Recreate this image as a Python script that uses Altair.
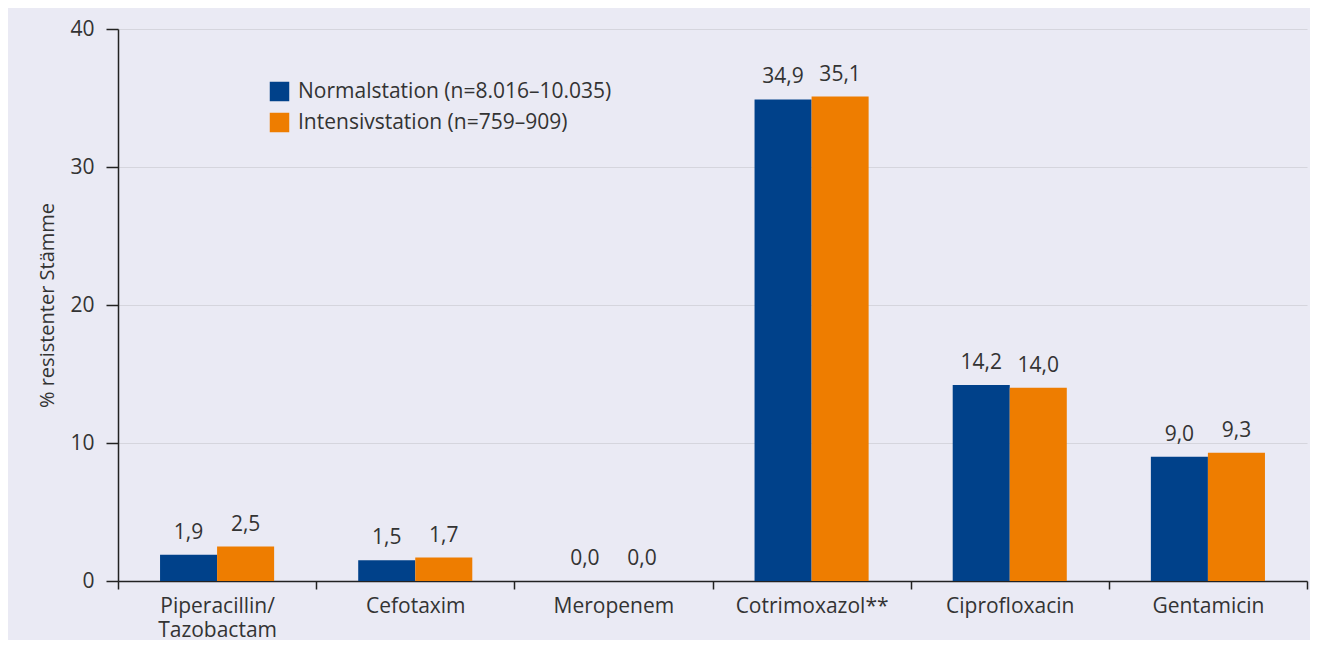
import altair as alt
import pandas as pd

categories = ["Piperacillin/\nTazobactam", "Cefotaxim", "Meropenem", "Cotrimoxazol**", "Ciprofloxacin", "Gentamicin"]
series = ["Normalstation (n=8.016–10.035)", "Intensivstation (n=759–909)"]
normal = [1.9, 1.5, 0.0, 34.9, 14.2, 9.0]
intensiv = [2.5, 1.7, 0.0, 35.1, 14.0, 9.3]
colors = ["#00418A", "#EE7D00"]
y_ticks = [0, 10, 20, 30, 40]

rows = []
for c, a, b in zip(categories, normal, intensiv):
    rows.append({"cat": c, "series": series[0], "value": a})
    rows.append({"cat": c, "series": series[1], "value": b})
df = pd.DataFrame(rows)

FONT = "Open Sans"
TXT = "#333333"

x_enc = alt.X("cat:N", sort=categories, title=None,
              scale=alt.Scale(paddingInner=0, paddingOuter=0),
              axis=alt.Axis(labelExpr="split(datum.label, '\\n')", labelAngle=0,
                            tickBand="extent", tickSize=8, labelPadding=6,
                            labelLineHeight=24, domainColor="#222222", tickColor="#222222",
                            domainWidth=1.5, tickWidth=1.5, grid=False))
xo = alt.XOffset("series:N", sort=series, scale=alt.Scale(paddingOuter=0.737, paddingInner=0))

bars = alt.Chart(df).mark_bar().encode(
    x=x_enc,
    xOffset=xo,
    y=alt.Y("value:Q", title="% resistenter Stämme",
            scale=alt.Scale(domain=[0, 40]),
            axis=alt.Axis(values=y_ticks, tickSize=12, labelPadding=12, titlePadding=12,
                          domainColor="#222222", tickColor="#222222", domainWidth=1.5, tickWidth=1.5,
                          gridColor="#D5D5DD", gridWidth=1)),
    color=alt.Color("series:N", sort=series, title=None,
                    scale=alt.Scale(domain=series, range=colors),
                    legend=alt.Legend(orient="none", legendX=151, legendY=52, symbolType="square",
                                      symbolSize=380, symbolStrokeWidth=0, labelFontSize=21,
                                      labelColor=TXT, labelFont=FONT, rowPadding=9, labelOffset=8,
                                      symbolOpacity=1, labelLimit=0)),
)

labels = alt.Chart(df).transform_calculate(
    lab="replace(format(datum.value, '.1f'), '.', ',')"
).mark_text(dy=-16, baseline="alphabetic", fontSize=21, font=FONT, color=TXT).encode(
    x=alt.X("cat:N", sort=categories),
    xOffset=xo,
    y="value:Q",
    text="lab:N",
)

chart = alt.layer(bars, labels).properties(
    width=1189, height=552,
    padding={"left": 29, "top": 10, "right": 2, "bottom": 0},
    background="#EAEAF4",
).configure_view(stroke=None).configure_axis(
    labelFont=FONT, titleFont=FONT, labelFontSize=21, titleFontSize=20,
    labelColor=TXT, titleColor=TXT, titleFontWeight="normal",
)

chart.save("out.html", embed_options={"renderer": "svg", "actions": False})
